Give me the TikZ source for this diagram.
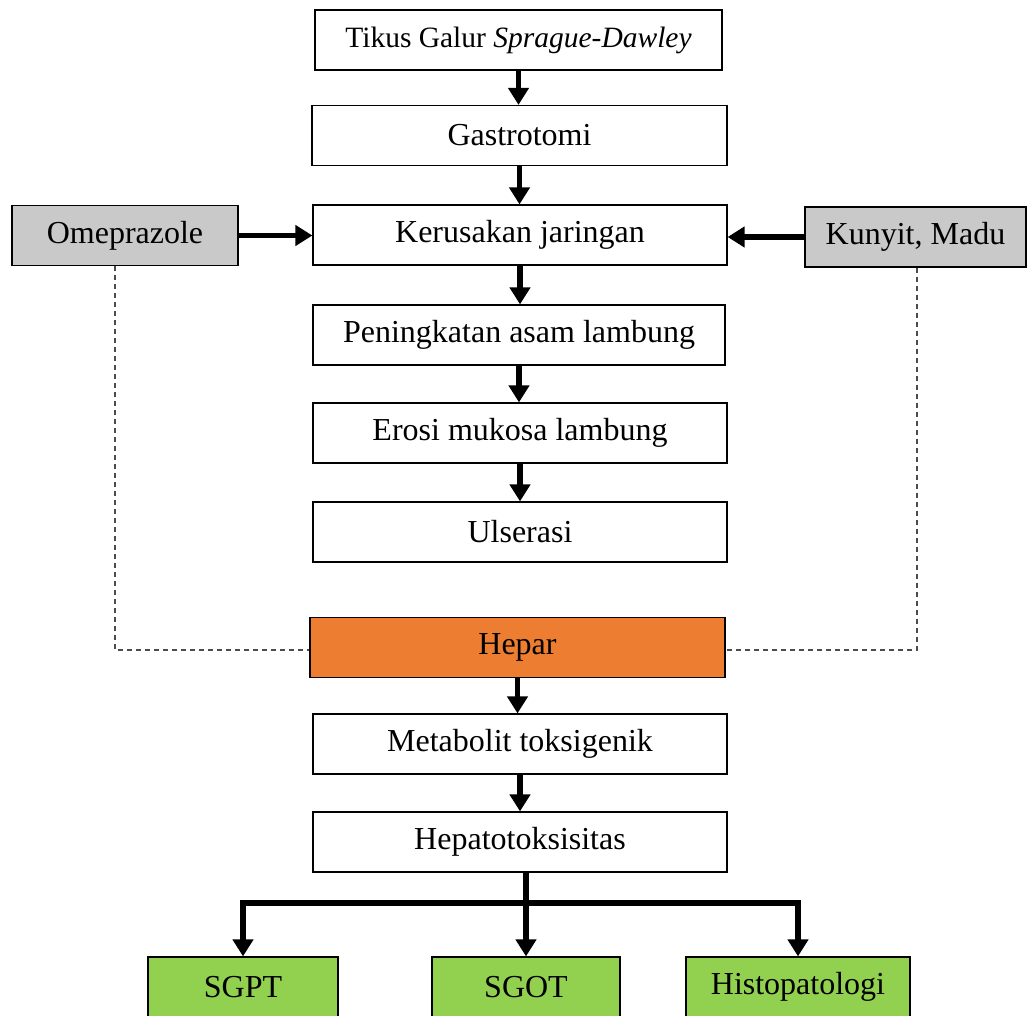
\documentclass[tikz,border=0pt]{standalone}
\usepackage{fontspec}
\setmainfont{Liberation Serif}
\usetikzlibrary{arrows.meta}
\definecolor{boxgray}{HTML}{C9C9C9}
\definecolor{heporange}{HTML}{ED7D31}
\definecolor{resgreen}{HTML}{92D050}
\begin{document}
\begin{tikzpicture}[x=1pt,y=-1pt,
  box/.style={draw=black, line width=1.2pt, fill=white, minimum height=60pt, inner sep=0pt,
    font=\fontsize{32}{38}\selectfont, text=black},
  tip/.style={},
  arr/.style={line width=5.5pt, -{Triangle[width=20pt,length=17pt]}},
  dline/.style={draw=black!70, line width=1.3pt, dash pattern=on 5pt off 4pt}]
\useasboundingbox (0,0) rectangle (1027,1016);

\node[box, minimum width=407pt, font=\fontsize{29.5}{36}\selectfont] (t1) at (518.5,40) {Tikus Galur \textit{Sprague-Dawley}};
\node[box, minimum width=415pt] (t2) at (519.5,135.5) {Gastrotomi};
\node[box, minimum width=414pt] (t3) at (520,235) {Kerusakan jaringan};
\node[box, minimum width=226pt, fill=boxgray] (om) at (125,235.5) {Omeprazole};
\node[box, minimum width=221pt, fill=boxgray] (ku) at (915.5,237) {Kunyit, Madu};
\node[box, minimum width=412pt] (t4) at (519,335) {Peningkatan asam lambung};
\node[box, minimum width=414pt] (t5) at (520,433) {Erosi mukosa lambung};
\node[box, minimum width=414pt] (t6) at (520,532) {Ulserasi};
\node[box, minimum width=415pt, fill=heporange] (hep) at (517.5,647.5) {Hepar};
\node[box, minimum width=414pt] (t7) at (520,744) {Metabolit toksigenik};
\node[box, minimum width=414pt] (t8) at (520,842) {Hepatotoksisitas};
\node[box, minimum width=190pt, fill=resgreen] (g1) at (243,987) {SGPT};
\node[box, minimum width=188pt, fill=resgreen] (g2) at (526,987) {SGOT};
\node[box, minimum width=224pt, fill=resgreen] (g3) at (798,987) {Histopatologi};

\coordinate (bj) at (0,903);
\coordinate (dy) at (0,650);
\coordinate (omx) at (115,0);
\coordinate (kux) at (917,0);

\draw[arr] (t1.south) -- (t1.south |- t2.north);
\draw[arr] (t2.south) -- (t2.south |- t3.north);
\draw[arr] (t3.south) -- (t3.south |- t4.north);
\draw[arr] (t4.south) -- (t4.south |- t5.north);
\draw[arr] (t5.south) -- (t5.south |- t6.north);
\draw[arr] (hep.south) -- (hep.south |- t7.north);
\draw[arr] (t7.south) -- (t7.south |- t8.north);
\draw[arr] (om.east) -- (om.east -| t3.west);
\draw[arr] (ku.west) -- (ku.west -| t3.east);

\draw[arr] (g2.north |- t8.south) -- (g2.north);
\draw[line width=5.5pt, {Triangle[width=20pt,length=17pt]}-{Triangle[width=20pt,length=17pt]}]
  (g1.north) -- (g1.north |- bj) -- (g3.north |- bj) -- (g3.north);

\draw[dline] (omx |- om.south) -- (omx |- dy) -- (hep.west |- dy);
\draw[dline] (kux |- ku.south) -- (kux |- dy) -- (hep.east |- dy);
\end{tikzpicture}
\end{document}
